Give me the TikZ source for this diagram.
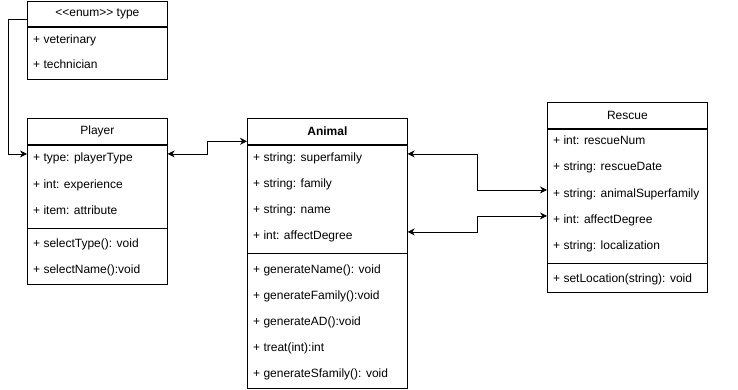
\documentclass[tikz,border=0pt]{standalone}
\usepackage{fontspec}
\setmainfont{Liberation Sans}
\usepackage{tikz}
\usetikzlibrary{positioning,arrows.meta}
\tikzset{
  umlbox/.style={draw, line width=0.7pt, anchor=north west, inner sep=0pt},
  item/.style={anchor=base west, inner sep=0pt},
  assoc/.style={line width=0.7pt, {Stealth[length=7pt,width=7pt]}-{Stealth[length=7pt,width=7pt]}},
  realize/.style={line width=0.7pt, -{Stealth[length=7pt,width=7pt]}}
}

\begin{document}
\begin{tikzpicture}[x=1pt, y=-1pt, font=\fontsize{12}{14}\selectfont]
  \useasboundingbox (0,0) rectangle (738,390);

  % enum type
  \node (enumT) [umlbox, minimum width=140pt, minimum height=25pt] at (27,1) {<{}<enum>{}> type};
  \node (enumA) [umlbox, minimum width=140pt, minimum height=52pt, below=0pt of enumT] {};
  \node (eVet) [item] at (33,44) {+ veterinary};
  \node (eTec) [item] at (33,69) {+ technician};

  % Player
  \node (playerT) [umlbox, minimum width=140pt, minimum height=26pt] at (27,118) {Player};
  \node (playerA) [umlbox, minimum width=140pt, minimum height=83pt, below=0pt of playerT] {};
  \node (playerM) [umlbox, minimum width=140pt, minimum height=56pt, below=0pt of playerA] {};
  \node (pType) [item] at (33,161) {+ type: playerType};
  \node (pExp)  [item] at (33,188) {+ int: experience};
  \node (pItem) [item] at (33,214) {+ item: attribute};
  \node (pSelT) [item] at (33,247) {+ selectType(): void};
  \node (pSelN) [item] at (33,273) {+ selectName():void};

  % Animal
  \node (animalT) [umlbox, minimum width=160pt, minimum height=26pt] at (247,118) {\textbf{Animal}};
  \node (animalA) [umlbox, minimum width=160pt, minimum height=108pt, below=0pt of animalT] {};
  \node (animalM) [umlbox, minimum width=160pt, minimum height=135pt, below=0pt of animalA] {};
  \node (aSuper) [item] at (253,161) {+ string: superfamily};
  \node (aFam)   [item] at (253,187) {+ string: family};
  \node (aName)  [item] at (253,213) {+ string: name};
  \node (aDeg)   [item] at (253,239) {+ int: affectDegree};
  \node (aGenN)  [item] at (253,273) {+ generateName(): void};
  \node (aGenF)  [item] at (253,299) {+ generateFamily():void};
  \node (aGenAD) [item] at (253,325) {+ generateAD():void};
  \node (aTreat) [item] at (253,351) {+ treat(int):int};
  \node (aGenS)  [item] at (253,377) {+ generateSfamily(): void};

  % Rescue
  \node (rescueT) [umlbox, minimum width=160pt, minimum height=26pt] at (547,102) {Rescue};
  \node (rescueA) [umlbox, minimum width=160pt, minimum height=134pt, below=0pt of rescueT] {};
  \node (rescueM) [umlbox, minimum width=160pt, minimum height=29pt, below=0pt of rescueA] {};
  \node (rNum)  [item] at (553,145) {+ int: rescueNum};
  \node (rDate) [item] at (553,171) {+ string: rescueDate};
  \node (rSFam) [item] at (553,197) {+ string: animalSuperfamily};
  \node (rDeg)  [item] at (553,223) {+ int: affectDegree};
  \node (rLoc)  [item] at (553,249) {+ string: localization};
  \node (rSet)  [item] at (553,282) {+ setLocation(string): void};

  % connectors
  \draw [realize] ([yshift=-6pt]enumT.west) -- ++(-19,0) |- ([yshift=4pt]playerA.west |- pType);
  \draw [assoc] ([yshift=4pt]playerA.east |- pType) -- ++(40,0) |- ([yshift=-10pt]animalT.west);
  \draw [assoc] ([yshift=4pt]animalA.east |- aSuper) -- ++(70,0) |- ([yshift=4pt]rescueA.west |- rSFam);
  \draw [assoc] ([yshift=4pt]animalA.east |- aDeg) -- ++(70,0) |- ([yshift=4pt]rescueA.west |- rDeg);
\end{tikzpicture}
\end{document}
